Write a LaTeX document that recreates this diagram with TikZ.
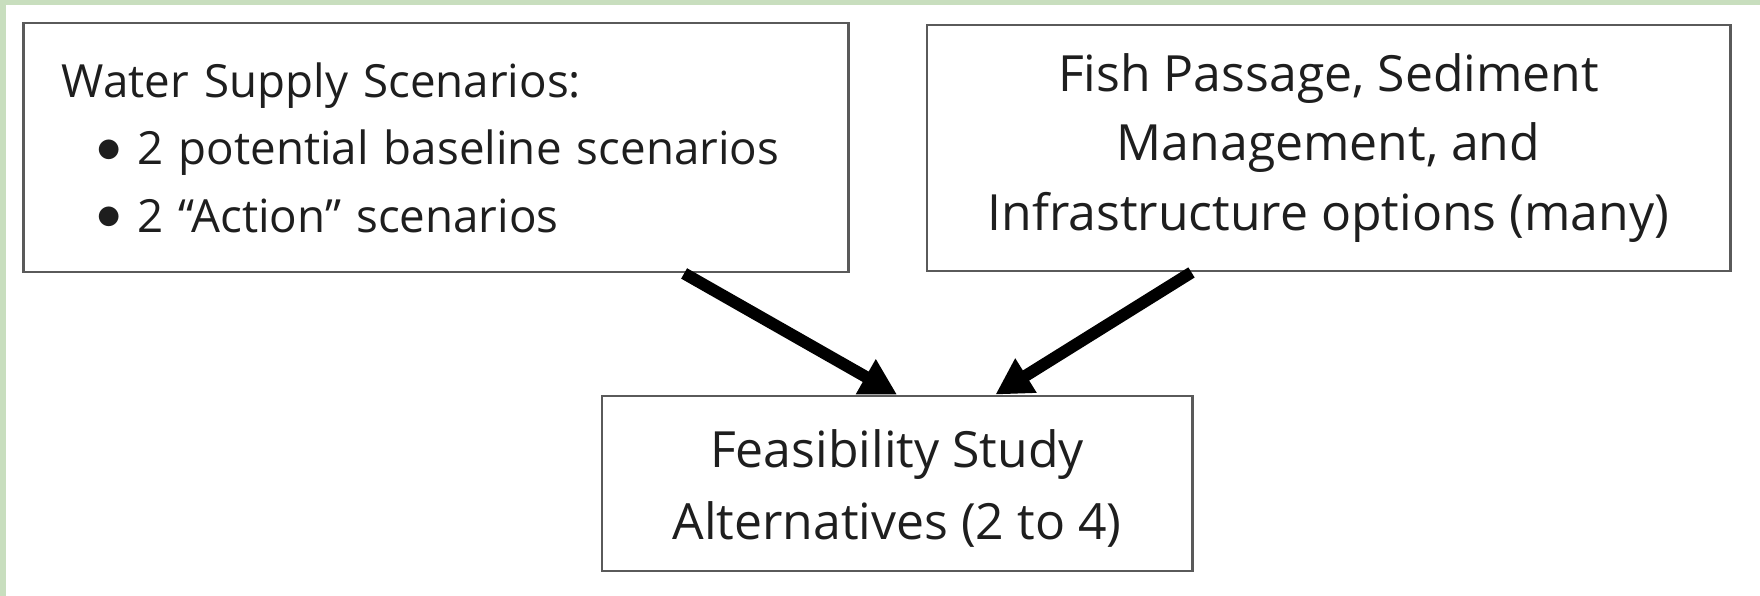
\documentclass[tikz,border=0pt]{standalone}
\usepackage{fontspec}
\setmainfont{Open Sans}
\usetikzlibrary{arrows.meta,calc}
\definecolor{framegreen}{RGB}{200,222,190}
\definecolor{boxgray}{RGB}{90,90,90}
\definecolor{inkgray}{RGB}{30,30,30}
\newcommand{\bigdot}{\raisebox{0.05em}{\scalebox{1.45}{$\bullet$}}}
\begin{document}
\begin{tikzpicture}[x=0.025cm,y=-0.025cm,text=inkgray,
  box/.style={draw=boxgray,line width=2pt,fill=white,inner sep=0pt},
  flow/.style={line width=8.5pt,-{Triangle[length=0.9cm,width=0.95cm]}}]
\useasboundingbox (0,0) rectangle (1760,596);
\fill[white] (0,0) rectangle (1760,596);
\fill[framegreen] (0,0) rectangle (6,596); % left strip
\fill[framegreen] (0,0) rectangle (1760,5); % top strip
% the three boxes
\node[box,minimum width=20.6cm,minimum height=6.225cm,inner xsep=0.95cm,
  text width=18.7cm,align=left,font=\fontsize{32.5}{48}\selectfont] (water) at (436,147.5)
  {Water Supply Scenarios:\\
   \hspace*{0.87cm}\bigdot\hspace{0.38cm}2 potential baseline scenarios\\
   \hspace*{0.87cm}\bigdot\hspace{0.38cm}2 “Action” scenarios};
\node[box,minimum width=20.075cm,minimum height=6.15cm,align=center,
  font=\fontsize{35.5}{49.5}\selectfont] (fish) at (1328.5,148)
  {Fish Passage, Sediment\\Management, and\\Infrastructure options (many)};
\node[box,minimum width=14.75cm,minimum height=4.375cm,align=center,
  font=\fontsize{35.5}{51}\selectfont] (study) at (897,483.5)
  {\rule{0pt}{1.2cm}Feasibility Study\\Alternatives (2 to 4)};
% arrows
\draw[flow] ($(water.south west)!0.8!(water.south east)$) -- (study.north);
\draw[flow] ($(fish.south west)!0.33!(fish.south east)$) -- ($(study.north west)!0.666!(study.north east)$);
\end{tikzpicture}
\end{document}
